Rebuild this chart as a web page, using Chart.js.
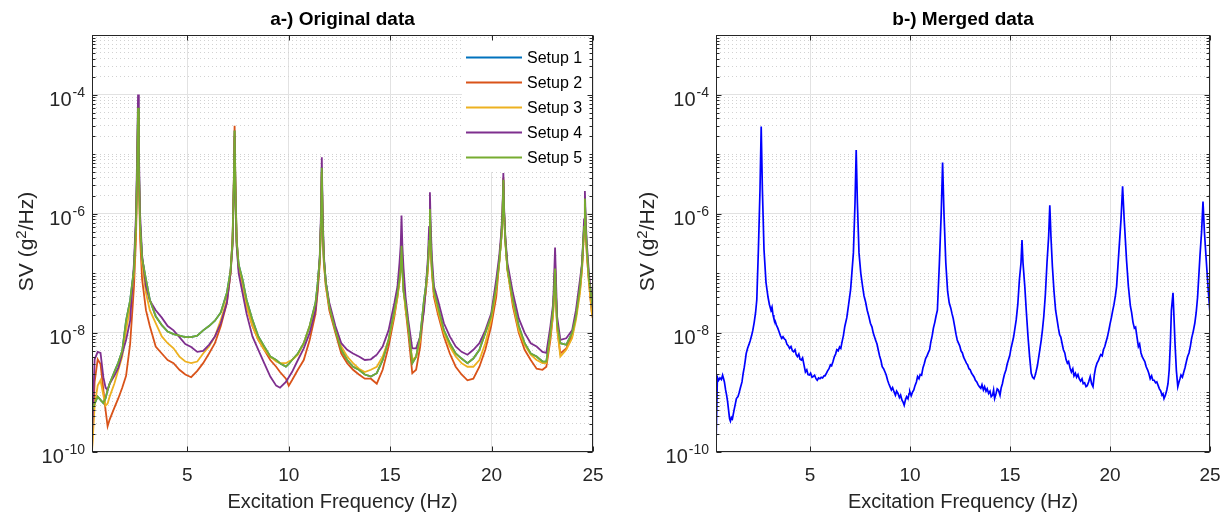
<!DOCTYPE html>
<html>
<head>
<meta charset="utf-8">
<script src="https://cdn.jsdelivr.net/npm/chart.js@4.4.0/dist/chart.umd.min.js"></script>
<style>
  html, body { margin: 0; padding: 0; background: #fff; }
  #wrap { position: relative; width: 1227px; height: 521px; }
  #chartA { position: absolute; left: 0; top: 0; }
  #chartB { position: absolute; left: 613px; top: 0; }
</style>
</head>
<body>
<div id="wrap">
  <canvas id="chartA" width="613" height="521"></canvas>
  <canvas id="chartB" width="614" height="521"></canvas>
</div>
<script>
// ---- data ----
const freqA = [
  0.3, 0.43, 0.58, 0.72, 0.86, 0.97, 1.07, 1.17, 1.4, 1.6, 1.79, 1.98, 2.18,
  2.37, 2.47, 2.53, 2.57, 2.61, 2.67, 2.77,
  2.96, 3.15, 3.44, 3.74, 4.03, 4.32, 4.61, 4.9, 5.19, 5.49, 5.78, 6.07, 6.36, 6.65, 6.95,
  7.13, 7.23, 7.29, 7.33, 7.37, 7.43, 7.53,
  7.72, 7.92, 8.21, 8.5, 8.79, 9.09, 9.38, 9.57, 9.86, 10.0, 10.16, 10.45, 10.74, 11.03, 11.32,
  11.43, 11.53, 11.59, 11.63, 11.67, 11.73, 11.83,
  12.0, 12.3, 12.59, 12.88, 13.17, 13.46, 13.75, 14.05, 14.34, 14.63, 14.92, 15.21,
  15.36, 15.46, 15.52, 15.56, 15.6, 15.66, 15.76,
  15.89, 16.09, 16.28, 16.48, 16.67,
  16.76, 16.86, 16.92, 16.96, 17.0, 17.06, 17.16,
  17.35, 17.65, 17.94, 18.23, 18.52, 18.81, 19.1, 19.4, 19.69, 19.98, 20.23,
  20.38, 20.48, 20.54, 20.58, 20.62, 20.68, 20.78,
  21.05, 21.34, 21.63, 21.93, 22.22, 22.51, 22.7, 22.9,
  23.03, 23.08, 23.13, 23.18, 23.23,
  23.39, 23.68, 23.97, 24.16, 24.36,
  24.46, 24.52, 24.56, 24.6, 24.64, 24.7, 24.8,
  24.94, 25.0
];

// Setup 1 sits underneath the others in the picture (fully covered)
const setup1 = [
  5e-10, 6.5e-10, 8.5e-10, 7.5e-10, 6.6e-10, 8e-10, 1.1e-9, 1.4e-9, 2.2e-9, 3.2e-9, 5e-9, 1.6e-8, 3.5e-8,
  1.2e-7, 7e-7, 7e-6, 6e-5, 7e-6, 7e-7, 1.8e-7,
  7.9e-8, 3.6e-8, 1.9e-8, 1.35e-8, 1.05e-8, 9.5e-9, 9e-9, 8.5e-9, 8.5e-9, 9e-9, 1.1e-8, 1.3e-8, 1.6e-8, 2.2e-8, 4.7e-8,
  1.1e-7, 3.5e-7, 3e-6, 2.5e-5, 3e-6, 3.5e-7, 1.4e-7,
  7.9e-8, 3.6e-8, 1.65e-8, 8.7e-9, 5.9e-9, 4e-9, 3.5e-9, 3.1e-9, 2.7e-9, 3e-9, 3.5e-9, 4.5e-9, 6.7e-9, 1.3e-8, 3.2e-8,
  7e-8, 1.8e-7, 8e-7, 5.9e-6, 8e-7, 1.8e-7, 7e-8,
  2.8e-8, 1.1e-8, 5.2e-9, 3.5e-9, 2.7e-9, 2.4e-9, 2e-9, 1.85e-9, 2.1e-9, 3.5e-9, 7.6e-9, 2.4e-8,
  4.5e-8, 8e-8, 1.2e-7, 2.9e-7, 1.2e-7, 5e-8, 3e-8,
  1.3e-8, 3.1e-9, 4e-9, 8.7e-9, 3.6e-8,
  6e-8, 1.4e-7, 3.5e-7, 1.2e-6, 3.5e-7, 1.2e-7, 5e-8,
  2.8e-8, 1.1e-8, 6.7e-9, 4.5e-9, 3.7e-9, 3.1e-9, 3.7e-9, 5.2e-9, 1e-8, 1.9e-8, 6e-8,
  1.6e-7, 4e-7, 1e-6, 3.7e-6, 1e-6, 3.5e-7, 1.2e-7,
  3.6e-8, 1.3e-8, 6.7e-9, 4.5e-9, 4e-9, 3.3e-9, 3.3e-9, 1e-8,
  2.5e-8, 5e-8, 1.2e-7, 4e-8, 1.4e-8,
  6.7e-9, 6.3e-9, 1e-8, 1.9e-8, 6e-8,
  1.4e-7, 3.5e-7, 6e-7, 1.8e-6, 6e-7, 2.5e-7, 8e-8,
  3.6e-8, 2.5e-8
];

const setup2 = [
  1.1e-10, 1.5e-9, 3.6e-9, 3e-9, 1.1e-9, 5e-10, 2.7e-10, 3.5e-10, 5.5e-10, 8e-10, 1.2e-9, 1.9e-9, 6.5e-9,
  6e-8, 4e-7, 5e-6, 4e-5, 5e-6, 4e-7, 8e-8,
  2.4e-8, 1.3e-8, 5.9e-9, 4.5e-9, 3.5e-9, 3.1e-9, 2.4e-9, 2e-9, 1.8e-9, 2.3e-9, 3.1e-9, 4.5e-9, 6.7e-9, 1.3e-8, 3.2e-8,
  1e-7, 4e-7, 3.5e-6, 3e-5, 3.5e-6, 4e-7, 1.2e-7,
  5.3e-8, 2.8e-8, 1.3e-8, 7.6e-9, 5.2e-9, 3.5e-9, 2.7e-9, 2.2e-9, 1.7e-9, 1.3e-9, 1.6e-9, 2.4e-9, 3.5e-9, 7.6e-9, 2.1e-8,
  5e-8, 1.5e-7, 7e-7, 5e-6, 7e-7, 1.5e-7, 6e-8,
  2.4e-8, 1e-8, 4.5e-9, 3.1e-9, 2.4e-9, 2e-9, 1.7e-9, 1.7e-9, 1.4e-9, 2.4e-9, 5.9e-9, 1.9e-8,
  4e-8, 8e-8, 1.5e-7, 4e-7, 1.5e-7, 6e-8, 2.5e-8,
  1e-8, 2.1e-9, 2.4e-9, 5.9e-9, 2.8e-8,
  5e-8, 1.2e-7, 3e-7, 1e-6, 3e-7, 1e-7, 4e-8,
  2.1e-8, 8.7e-9, 4.5e-9, 2.7e-9, 2e-9, 1.6e-9, 1.7e-9, 2.7e-9, 5.2e-9, 1.3e-8, 4e-8,
  1.6e-7, 4e-7, 1e-6, 4e-6, 1e-6, 3.5e-7, 1.2e-7,
  2.8e-8, 1e-8, 5.2e-9, 3.5e-9, 2.5e-9, 2.4e-9, 2.7e-9, 7.6e-9,
  2e-8, 5e-8, 1.5e-7, 4e-8, 1.2e-8,
  4.5e-9, 5.5e-9, 8.7e-9, 1.9e-8, 5.3e-8,
  1.2e-7, 3e-7, 5e-7, 1.5e-6, 5e-7, 2e-7, 7e-8,
  2.2e-8, 1.7e-8
];

const setup3 = [
  1e-10, 6e-10, 1.3e-9, 1.6e-9, 9e-10, 6e-10, 6.5e-10, 8.5e-10, 1.4e-9, 2.4e-9, 4e-9, 1.1e-8, 2.6e-8,
  1e-7, 6e-7, 6e-6, 5e-5, 6e-6, 6e-7, 1.5e-7,
  4.7e-8, 2.4e-8, 1.45e-8, 8.7e-9, 6.7e-9, 5.5e-9, 4e-9, 3.3e-9, 3.1e-9, 3.3e-9, 4.5e-9, 5.9e-9, 8.7e-9, 1.65e-8, 3.6e-8,
  1e-7, 3e-7, 2.5e-6, 2e-5, 2.5e-6, 3e-7, 1.2e-7,
  5.3e-8, 2.8e-8, 1.3e-8, 7.6e-9, 5.2e-9, 4e-9, 3.3e-9, 3.1e-9, 3.1e-9, 3.3e-9, 3.5e-9, 4.3e-9, 6.7e-9, 1.3e-8, 2.8e-8,
  6e-8, 1.6e-7, 7e-7, 5e-6, 7e-7, 1.6e-7, 6e-8,
  2.8e-8, 1.1e-8, 5.9e-9, 4e-9, 3.1e-9, 2.5e-9, 2.2e-9, 2.4e-9, 2.7e-9, 4e-9, 7.6e-9, 2.1e-8,
  4e-8, 7e-8, 1.2e-7, 3e-7, 1.2e-7, 5e-8, 2.5e-8,
  1.3e-8, 3.5e-9, 4e-9, 7.6e-9, 3.2e-8,
  5e-8, 1.2e-7, 3e-7, 1e-6, 3e-7, 1e-7, 4.5e-8,
  2.4e-8, 1e-8, 5.9e-9, 4e-9, 3.1e-9, 2.7e-9, 2.7e-9, 3.5e-9, 6.7e-9, 1.65e-8, 5.3e-8,
  1.5e-7, 3.8e-7, 9e-7, 3.5e-6, 9e-7, 3.2e-7, 1.1e-7,
  3.2e-8, 1.1e-8, 6.3e-9, 4.3e-9, 3.5e-9, 3.1e-9, 3.1e-9, 8.7e-9,
  2e-8, 4e-8, 1e-7, 3.5e-8, 1.2e-8,
  4e-9, 5.2e-9, 8.1e-9, 1.65e-8, 4.7e-8,
  1.2e-7, 3e-7, 5e-7, 1.5e-6, 5e-7, 2e-7, 7e-8,
  2.2e-8, 1.7e-8
];

const setup4 = [
  1.8e-10, 3.6e-9, 4.8e-9, 4.6e-9, 1.8e-9, 1.2e-9, 1.1e-9, 1.4e-9, 1.9e-9, 2.6e-9, 4.5e-9, 7.6e-9, 1.6e-8,
  1.5e-7, 1e-6, 1.2e-5, 1e-4, 1.2e-5, 1e-6, 2e-7,
  6e-8, 3.5e-8, 2.4e-8, 1.8e-8, 1.3e-8, 1.1e-8, 8.5e-9, 6.5e-9, 5.8e-9, 4.8e-9, 5e-9, 6.3e-9, 8.7e-9, 1.45e-8, 3.2e-8,
  1e-7, 3e-7, 2.5e-6, 2e-5, 2.5e-6, 3e-7, 1e-7,
  4.7e-8, 2.1e-8, 8.7e-9, 5.2e-9, 3.1e-9, 1.85e-9, 1.3e-9, 1.2e-9, 1.5e-9, 1.8e-9, 2.2e-9, 3.5e-9, 5.5e-9, 1e-8, 2.4e-8,
  6e-8, 2e-7, 1.1e-6, 8.9e-6, 1.1e-6, 2e-7, 7e-8,
  3.2e-8, 1.3e-8, 6.7e-9, 5.2e-9, 4.5e-9, 4e-9, 3.5e-9, 3.6e-9, 4.3e-9, 5.9e-9, 1.1e-8, 3.2e-8,
  6e-8, 1.5e-7, 3e-7, 9.3e-7, 3e-7, 1.2e-7, 4e-8,
  1.65e-8, 5.5e-9, 5.5e-9, 8.7e-9, 2.4e-8,
  6e-8, 1.8e-7, 6e-7, 2.3e-6, 6e-7, 1.8e-7, 6e-8,
  3.6e-8, 1.45e-8, 8.7e-9, 5.9e-9, 4.8e-9, 4.3e-9, 5.2e-9, 6.7e-9, 1.1e-8, 2.1e-8, 7.9e-8,
  2e-7, 5e-7, 1.2e-6, 4.8e-6, 1.2e-6, 4e-7, 1.5e-7,
  4.7e-8, 1.75e-8, 1e-8, 6.7e-9, 5.9e-9, 4.8e-9, 4.6e-9, 1.3e-8,
  3e-8, 8e-8, 2.7e-7, 7e-8, 1.9e-8,
  7.6e-9, 8.1e-9, 1.1e-8, 2.4e-8, 7.9e-8,
  1.5e-7, 4e-7, 8e-7, 2.4e-6, 8e-7, 3e-7, 1e-7,
  3.5e-8, 2.5e-8
];

const setup5 = [
  5e-10, 6.5e-10, 8.5e-10, 7.5e-10, 6.6e-10, 8e-10, 1.1e-9, 1.4e-9, 2.2e-9, 3.2e-9, 5e-9, 1.6e-8, 3.5e-8,
  1.2e-7, 7e-7, 7e-6, 6e-5, 7e-6, 7e-7, 1.8e-7,
  7.9e-8, 3.6e-8, 1.9e-8, 1.35e-8, 1.05e-8, 9.5e-9, 9e-9, 8.5e-9, 8.5e-9, 9e-9, 1.1e-8, 1.3e-8, 1.6e-8, 2.2e-8, 4.7e-8,
  1.1e-7, 3.5e-7, 3e-6, 2.5e-5, 3e-6, 3.5e-7, 1.4e-7,
  7.9e-8, 3.6e-8, 1.65e-8, 8.7e-9, 5.9e-9, 4e-9, 3.5e-9, 3.1e-9, 2.7e-9, 3e-9, 3.5e-9, 4.5e-9, 6.7e-9, 1.3e-8, 3.2e-8,
  7e-8, 1.8e-7, 8e-7, 5.9e-6, 8e-7, 1.8e-7, 7e-8,
  2.8e-8, 1.1e-8, 5.2e-9, 3.5e-9, 2.7e-9, 2.4e-9, 2e-9, 1.85e-9, 2.1e-9, 3.5e-9, 7.6e-9, 2.4e-8,
  4.5e-8, 8e-8, 1.2e-7, 2.9e-7, 1.2e-7, 5e-8, 3e-8,
  1.3e-8, 3.1e-9, 4e-9, 8.7e-9, 3.6e-8,
  6e-8, 1.4e-7, 3.5e-7, 1.2e-6, 3.5e-7, 1.2e-7, 5e-8,
  2.8e-8, 1.1e-8, 6.7e-9, 4.5e-9, 3.7e-9, 3.1e-9, 3.7e-9, 5.2e-9, 1e-8, 1.9e-8, 6e-8,
  1.6e-7, 4e-7, 1e-6, 3.7e-6, 1e-6, 3.5e-7, 1.2e-7,
  3.6e-8, 1.3e-8, 6.7e-9, 4.5e-9, 4e-9, 3.3e-9, 3.3e-9, 1e-8,
  2.5e-8, 5e-8, 1.2e-7, 4e-8, 1.4e-8,
  6.7e-9, 6.3e-9, 1e-8, 1.9e-8, 6e-8,
  1.4e-7, 3.5e-7, 6e-7, 1.8e-6, 6e-7, 2.5e-7, 8e-8,
  3.6e-8, 2.5e-8
];

// merged spectrum, right panel (one line of freqB matches one line of merged)
const freqB = [
  0.3, 0.37, 0.43, 0.5, 0.57, 0.63, 0.68, 0.72, 0.78, 0.83, 0.88, 0.93,
  0.98, 1.02, 1.07, 1.12, 1.2, 1.27, 1.32, 1.4, 1.46, 1.52, 1.6, 1.66,
  1.71, 1.76, 1.81, 1.88, 1.95, 2.01, 2.08, 2.14, 2.21, 2.28, 2.34,
  2.42, 2.5, 2.56, 2.62, 2.7,
  2.8, 2.9, 2.97, 3.05, 3.1, 3.15, 3.19, 3.25, 3.32, 3.39, 3.45, 3.52,
  3.59, 3.65, 3.72, 3.78, 3.85, 3.92, 3.98, 4.05, 4.12, 4.18, 4.25, 4.31,
  4.37, 4.44, 4.5, 4.57, 4.63, 4.7, 4.77, 4.84, 4.9, 4.97, 5.03, 5.1,
  5.16, 5.23, 5.3, 5.36, 5.43, 5.5, 5.56, 5.63, 5.7, 5.75, 5.82, 5.88,
  5.95, 6.02, 6.08, 6.15, 6.22, 6.28, 6.34, 6.41, 6.48, 6.54, 6.6, 6.67,
  6.74, 6.84, 6.92, 7.03,
  7.17, 7.25, 7.31, 7.37, 7.45,
  7.54, 7.63, 7.7, 7.78, 7.86, 7.94, 8.02, 8.1, 8.16, 8.22, 8.29, 8.35,
  8.41, 8.48, 8.55, 8.61, 8.68, 8.75, 8.81, 8.88, 8.94, 9.0, 9.07, 9.13,
  9.2, 9.27, 9.33, 9.4, 9.47, 9.53, 9.6, 9.66, 9.71, 9.77, 9.83, 9.9,
  9.95, 9.99, 10.06, 10.12, 10.19, 10.25, 10.32, 10.38, 10.45, 10.51, 10.58, 10.65,
  10.71, 10.78, 10.85, 10.91, 10.98, 11.04, 11.11, 11.17, 11.24, 11.3, 11.37,
  11.47, 11.56, 11.63, 11.7, 11.79,
  11.88, 11.96, 12.04, 12.1, 12.16, 12.23, 12.3, 12.36, 12.42, 12.49, 12.55, 12.62,
  12.68, 12.75, 12.82, 12.88, 12.95, 13.01, 13.08, 13.14, 13.21, 13.27, 13.34, 13.4,
  13.47, 13.54, 13.6, 13.67, 13.73, 13.8, 13.86, 13.93, 14.0, 14.06, 14.13, 14.18,
  14.23, 14.3, 14.36, 14.42, 14.5, 14.56, 14.62, 14.67, 14.72, 14.8, 14.86, 14.92,
  14.99, 15.05, 15.11, 15.18, 15.24, 15.31, 15.39, 15.47,
  15.55, 15.6, 15.65, 15.74,
  15.82, 15.9, 15.98, 16.06, 16.13, 16.2, 16.25, 16.3, 16.37, 16.43, 16.49, 16.56,
  16.62, 16.69, 16.77,
  16.85, 16.93, 16.99, 17.05, 17.12,
  17.2, 17.28, 17.35, 17.42, 17.48, 17.54, 17.61, 17.67, 17.74, 17.8, 17.87, 17.93,
  18.0, 18.07, 18.14, 18.2, 18.27, 18.33, 18.4, 18.46, 18.53, 18.6, 18.66, 18.73,
  18.8, 18.86, 18.93, 19.01, 19.08, 19.15, 19.22, 19.28, 19.35, 19.42, 19.48, 19.54,
  19.61, 19.67, 19.74, 19.8, 19.87, 19.94, 20.0, 20.07, 20.14, 20.2, 20.27, 20.33,
  20.45, 20.55, 20.63, 20.71, 20.83,
  20.92, 21.02, 21.08, 21.15, 21.22, 21.28, 21.35, 21.42, 21.48, 21.55, 21.61, 21.68,
  21.74, 21.81, 21.88, 21.94, 22.01, 22.08, 22.14, 22.21, 22.28, 22.34, 22.41, 22.47,
  22.54, 22.6, 22.65, 22.7, 22.77, 22.84, 22.9, 22.96, 23.02, 23.07,
  23.15,
  23.2, 23.25, 23.32, 23.39, 23.45, 23.5, 23.55, 23.62, 23.69, 23.75, 23.82, 23.88,
  23.95, 24.02, 24.08, 24.16, 24.24, 24.31, 24.38,
  24.5, 24.58, 24.65, 24.72, 24.81, 24.9, 25.0
];

const merged = [
  1.3e-10, 1.8e-9, 1.6e-9, 1.75e-9, 1.65e-9, 1.95e-9, 1.7e-9, 1.5e-9, 1.1e-9, 9e-10, 7e-10, 5e-10,
  3.6e-10, 3.3e-10, 3.8e-10, 3.6e-10, 5e-10, 6.5e-10, 7.9e-10, 8.5e-10, 1e-9, 1.2e-9, 1.5e-9, 2.1e-9,
  2.6e-9, 3.4e-9, 4.5e-9, 5.5e-9, 6.4e-9, 7.4e-9, 9e-9, 1.1e-8, 1.5e-8, 2.2e-8, 3.6e-8,
  2.5e-7, 2.5e-6, 2.9e-5, 2.5e-6, 2.5e-7,
  7e-8, 4e-8, 3e-8, 2.4e-8, 2.7e-8, 2e-8, 1.75e-8, 1.6e-8, 1.35e-8, 1.2e-8, 1.05e-8, 9e-9,
  8.1e-9, 8.6e-9, 7.9e-9, 7.6e-9, 6.4e-9, 6e-9, 5.5e-9, 5.9e-9, 5e-9, 4.8e-9, 5.2e-9, 4.3e-9,
  4e-9, 4.4e-9, 3.6e-9, 3.5e-9, 3.8e-9, 2.9e-9, 2.2e-9, 2.4e-9, 2e-9, 1.96e-9, 2.1e-9, 1.8e-9,
  1.85e-9, 1.95e-9, 1.7e-9, 1.6e-9, 1.75e-9, 1.7e-9, 1.8e-9, 1.75e-9, 1.9e-9, 1.9e-9, 2.1e-9, 2.3e-9,
  2.5e-9, 2.9e-9, 2.8e-9, 3.3e-9, 4e-9, 4.4e-9, 5.2e-9, 5e-9, 5.8e-9, 5.5e-9, 7e-9, 9e-9,
  1.28e-8, 1.8e-8, 2.8e-8, 5.3e-8,
  2.2e-7, 1.5e-6, 1.17e-5, 1.5e-6, 2.2e-7,
  1e-7, 6e-8, 4.2e-8, 3.3e-8, 2.4e-8, 1.9e-8, 1.45e-8, 1.25e-8, 1e-8, 8.7e-9, 7.4e-9, 6.5e-9,
  5.2e-9, 4.1e-9, 3.4e-9, 2.7e-9, 2.5e-9, 2.2e-9, 1.96e-9, 1.6e-9, 1.4e-9, 1.25e-9, 1.1e-9, 1.2e-9,
  1.03e-9, 9e-10, 1.05e-9, 9.6e-10, 8.2e-10, 9e-10, 7.4e-10, 6.8e-10, 6.1e-10, 7.5e-10, 8.5e-10, 7.8e-10,
  9.5e-10, 1.03e-9, 8.8e-10, 1e-9, 1.1e-9, 1.3e-9, 1.5e-9, 1.85e-9, 1.7e-9, 2e-9, 1.95e-9, 2.6e-9,
  3e-9, 3.7e-9, 4.1e-9, 4.6e-9, 5.2e-9, 7e-9, 9e-9, 1.2e-8, 1.5e-8, 1.9e-8, 2.4e-8,
  1.5e-7, 1e-6, 7.2e-6, 1e-6, 1.5e-7,
  5e-8, 3.2e-8, 2.6e-8, 2.1e-8, 1.75e-8, 1.3e-8, 9.5e-9, 7.6e-9, 6.8e-9, 6e-9, 5e-9, 4.6e-9,
  3.9e-9, 3.5e-9, 3.1e-9, 2.9e-9, 2.5e-9, 2.4e-9, 2.1e-9, 1.96e-9, 1.8e-9, 1.6e-9, 1.5e-9, 1.35e-9,
  1.25e-9, 1.17e-9, 1.35e-9, 1.1e-9, 1.25e-9, 1.05e-9, 1.15e-9, 9.6e-10, 1.05e-9, 8.5e-10, 9e-10, 1.1e-9,
  7.9e-10, 9.5e-10, 1.15e-9, 1.1e-9, 9e-10, 1.2e-9, 1.4e-9, 1.7e-9, 2e-9, 2.4e-9, 3e-9, 3.5e-9,
  4.2e-9, 5.5e-9, 6.7e-9, 8.5e-9, 1.15e-8, 1.65e-8, 3e-8, 7.8e-8,
  1.5e-7, 3.6e-7, 1.5e-7, 6e-8,
  2.2e-8, 8.7e-9, 4e-9, 2.1e-9, 1.8e-9, 1.7e-9, 1.9e-9, 2.2e-9, 2.8e-9, 3.8e-9, 5.2e-9, 7.5e-9,
  1.1e-8, 1.9e-8, 4.5e-8,
  1.5e-7, 4e-7, 1.38e-6, 4e-7, 1.3e-7,
  5e-8, 2.4e-8, 1.7e-8, 1.2e-8, 9.3e-9, 8.5e-9, 6.5e-9, 5.2e-9, 4.6e-9, 3.6e-9, 3.1e-9, 3.3e-9,
  2.6e-9, 2.2e-9, 2.5e-9, 1.9e-9, 2.1e-9, 1.8e-9, 2e-9, 1.7e-9, 1.55e-9, 1.7e-9, 1.4e-9, 1.45e-9,
  1.25e-9, 1.3e-9, 1.5e-9, 1.85e-9, 1.4e-9, 1.25e-9, 2e-9, 2.6e-9, 3.1e-9, 3.4e-9, 3.9e-9, 4.3e-9,
  4.1e-9, 5.2e-9, 5.9e-9, 7e-9, 8.5e-9, 1.1e-8, 1.4e-8, 1.8e-8, 2.4e-8, 3e-8, 4.2e-8, 6e-8,
  2.5e-7, 8e-7, 2.9e-6, 8e-7, 1.6e-7,
  6e-8, 2.8e-8, 2.2e-8, 1.5e-8, 1.2e-8, 1.25e-8, 8.5e-9, 5.9e-9, 6.5e-9, 4.6e-9, 4e-9, 3.6e-9,
  3.3e-9, 2.7e-9, 2.4e-9, 2.1e-9, 1.7e-9, 1.9e-9, 1.6e-9, 1.6e-9, 1.45e-9, 1.5e-9, 1.3e-9, 1.15e-9,
  1.05e-9, 9e-10, 9.5e-10, 7.9e-10, 9e-10, 1.1e-9, 1.4e-9, 2.4e-9, 7e-9, 2.4e-8,
  4.7e-8,
  1.8e-8, 6.7e-9, 2.3e-9, 1.25e-9, 1.5e-9, 1.7e-9, 1.96e-9, 1.8e-9, 2.2e-9, 2.6e-9, 3.3e-9, 4e-9,
  4.6e-9, 6e-9, 8.1e-9, 1.05e-8, 1.45e-8, 2.2e-8, 4e-8,
  2e-7, 5e-7, 1.6e-6, 5e-7, 1.7e-7, 6e-8, 2.1e-8
];

const setupNames = ['Setup 1', 'Setup 2', 'Setup 3', 'Setup 4', 'Setup 5'];
const setupColors = ['#0072BD', '#D95319', '#EDB120', '#7E2F8E', '#77AC30'];
const xTickValues = [5, 10, 15, 20, 25];
const yLabelExponents = [-10, -8, -6, -4];
const yDecades = [-10, -9, -8, -7, -6, -5, -4, -3];

// grid positions for the log axis: 1..9 x 10^n, like MATLAB's minor grid
const yGridValues = [];
yDecades.forEach(e => {
  const top = e === -3 ? 1 : 9;
  for (let m = 1; m <= top; m++) yGridValues.push(Number(m + 'e' + e));
});
const isLabelled = v => yLabelExponents.some(e => Math.abs(v - Number('1e' + e)) < v * 1e-6);

const FONT = '"Liberation Sans", Arial, Helvetica, sans-serif';
const AXIS_COLOR = '#262626';

function toPoints(xs, ys) {
  if (xs.length !== ys.length) throw new Error('length mismatch ' + xs.length + ' vs ' + ys.length);
  return xs.map((x, i) => ({ x: x, y: ys[i] }));
}

function hline(ctx, x1, y1, x2, y2) {
  ctx.beginPath();
  ctx.moveTo(x1, y1);
  ctx.lineTo(x2, y2);
  ctx.stroke();
}

// MATLAB-like frame: box, inward ticks, labels with superscripts, titles, legend
const matlabAxes = {
  id: 'matlabAxes',
  afterDatasetsDraw(chart, args, opts) {
    const { ctx, chartArea: a, scales: { x, y } } = chart;
    ctx.save();

    if (opts.legend) {
      const lx = a.right - 131;
      ctx.fillStyle = '#fff';
      ctx.fillRect(lx, a.top + 3, a.right - lx - 1, 134);
      setupNames.forEach((name, i) => {
        const yy = a.top + 22.5 + i * 25;
        ctx.strokeStyle = setupColors[i];
        ctx.lineWidth = 2;
        hline(ctx, lx + 4, yy, lx + 60, yy);
        ctx.fillStyle = '#000';
        ctx.font = '16px ' + FONT;
        ctx.textAlign = 'left';
        ctx.textBaseline = 'middle';
        ctx.fillText(name, lx + 65, yy + 1);
      });
    }

    // box
    const L = Math.round(a.left) + 0.5, R = Math.round(a.right) - 0.5;
    const T = Math.round(a.top) + 0.5, B = Math.round(a.bottom) - 0.5;
    ctx.strokeStyle = AXIS_COLOR;
    ctx.lineWidth = 1;
    ctx.strokeRect(L, T, R - L, B - T);

    // x ticks (inward, top and bottom)
    xTickValues.forEach(v => {
      const px = Math.round(x.getPixelForValue(v)) + 0.5;
      hline(ctx, px, B, px, B - 5);
      hline(ctx, px, T, px, T + 5);
    });
    // y ticks (inward, left and right)
    yGridValues.forEach(v => {
      const py = Math.round(y.getPixelForValue(v)) + 0.5;
      const len = isLabelled(v) ? 5 : 3;
      hline(ctx, L, py, L + len, py);
      hline(ctx, R, py, R - len, py);
    });

    // x tick labels
    ctx.fillStyle = AXIS_COLOR;
    ctx.font = '19px ' + FONT;
    ctx.textAlign = 'center';
    ctx.textBaseline = 'alphabetic';
    xTickValues.forEach(v => {
      ctx.fillText(String(v), x.getPixelForValue(v), a.bottom + 29);
    });

    // y tick labels 10^n
    yLabelExponents.forEach(e => {
      const py = y.getPixelForValue(Number('1e' + e));
      const base = '10', sup = String(e);
      ctx.font = '20px ' + FONT;
      const wb = ctx.measureText(base).width;
      ctx.font = '14px ' + FONT;
      const ws = ctx.measureText(sup).width;
      const xr = a.left - 7;
      const x0 = xr - ws - wb - 1;
      ctx.textAlign = 'left';
      ctx.font = '20px ' + FONT;
      ctx.fillText(base, x0, py + 11);
      ctx.font = '14px ' + FONT;
      ctx.fillText(sup, x0 + wb + 1, py + 2);
    });

    // x axis title
    const cx = (a.left + a.right) / 2;
    ctx.font = '20px ' + FONT;
    ctx.textAlign = 'center';
    ctx.fillText('Excitation Frequency (Hz)', cx, a.bottom + 56);

    // y axis title (rotated, with superscript 2)
    ctx.save();
    ctx.translate(opts.yTitleX, (a.top + a.bottom) / 2 - 2);
    ctx.rotate(-Math.PI / 2);
    const parts = [['SV (g', false], ['2', true], ['/Hz)', false]];
    let total = 0;
    parts.forEach(p => {
      ctx.font = (p[1] ? '15px ' : '21px ') + FONT;
      total += ctx.measureText(p[0]).width;
    });
    let tx = -total / 2;
    ctx.textAlign = 'left';
    parts.forEach(p => {
      ctx.font = (p[1] ? '15px ' : '21px ') + FONT;
      ctx.fillText(p[0], tx, p[1] ? 0 : 7);
      tx += ctx.measureText(p[0]).width;
    });
    ctx.restore();

    // chart title
    ctx.fillStyle = '#000';
    ctx.font = 'bold 19px ' + FONT;
    ctx.textAlign = 'center';
    ctx.fillText(opts.title, cx, a.top - 10);

    ctx.restore();
  }
};

function makeOptions(pad, title, yTitleX, legend) {
  return {
    responsive: false,
    animation: false,
    events: [],
    layout: { padding: pad },
    elements: { point: { radius: 0 }, line: { tension: 0 } },
    plugins: {
      legend: { display: false },
      tooltip: { enabled: false },
      matlabAxes: { title: title, yTitleX: yTitleX, legend: legend }
    },
    scales: {
      x: {
        type: 'linear',
        min: 0.3,
        max: 25,
        afterBuildTicks: s => { s.ticks = xTickValues.map(v => ({ value: v })); },
        afterFit: s => { s.height = 0; },
        ticks: { display: false },
        grid: { color: '#e2e2e2', lineWidth: 1, drawTicks: false },
        border: { display: false }
      },
      y: {
        type: 'logarithmic',
        min: 1e-10,
        max: 1e-3,
        afterBuildTicks: s => { s.ticks = yGridValues.map(v => ({ value: v })); },
        afterFit: s => { s.width = 0; },
        ticks: { display: false, autoSkip: false },
        grid: {
          drawTicks: false,
          lineWidth: 1,
          color: c => (c.tick && isLabelled(c.tick.value)) ? '#e2e2e2' : '#d2d2d2'
        },
        border: {
          display: false,
          dash: c => (c.tick && !isLabelled(c.tick.value)) ? [1, 3] : []
        }
      }
    }
  };
}

const setupSeries = [setup1, setup2, setup3, setup4, setup5];

new Chart(document.getElementById('chartA'), {
  type: 'line',
  data: {
    datasets: setupSeries.map((vals, i) => ({
      label: setupNames[i],
      data: toPoints(freqA, vals),
      borderColor: setupColors[i],
      backgroundColor: setupColors[i],
      borderWidth: 1.8,
      fill: false,
      order: setupSeries.length - i   // later setups drawn on top, as in MATLAB
    }))
  },
  options: makeOptions({ left: 92, top: 35, right: 20, bottom: 69 }, 'a-) Original data', 26, true),
  plugins: [matlabAxes]
});

new Chart(document.getElementById('chartB'), {
  type: 'line',
  data: {
    datasets: [{
      label: 'Merged',
      data: toPoints(freqB, merged),
      borderColor: '#0000FF',
      backgroundColor: '#0000FF',
      borderWidth: 1.7,
      fill: false
    }]
  },
  options: makeOptions({ left: 103, top: 35, right: 17, bottom: 69 }, 'b-) Merged data', 34, false),
  plugins: [matlabAxes]
});
</script>
</body>
</html>
